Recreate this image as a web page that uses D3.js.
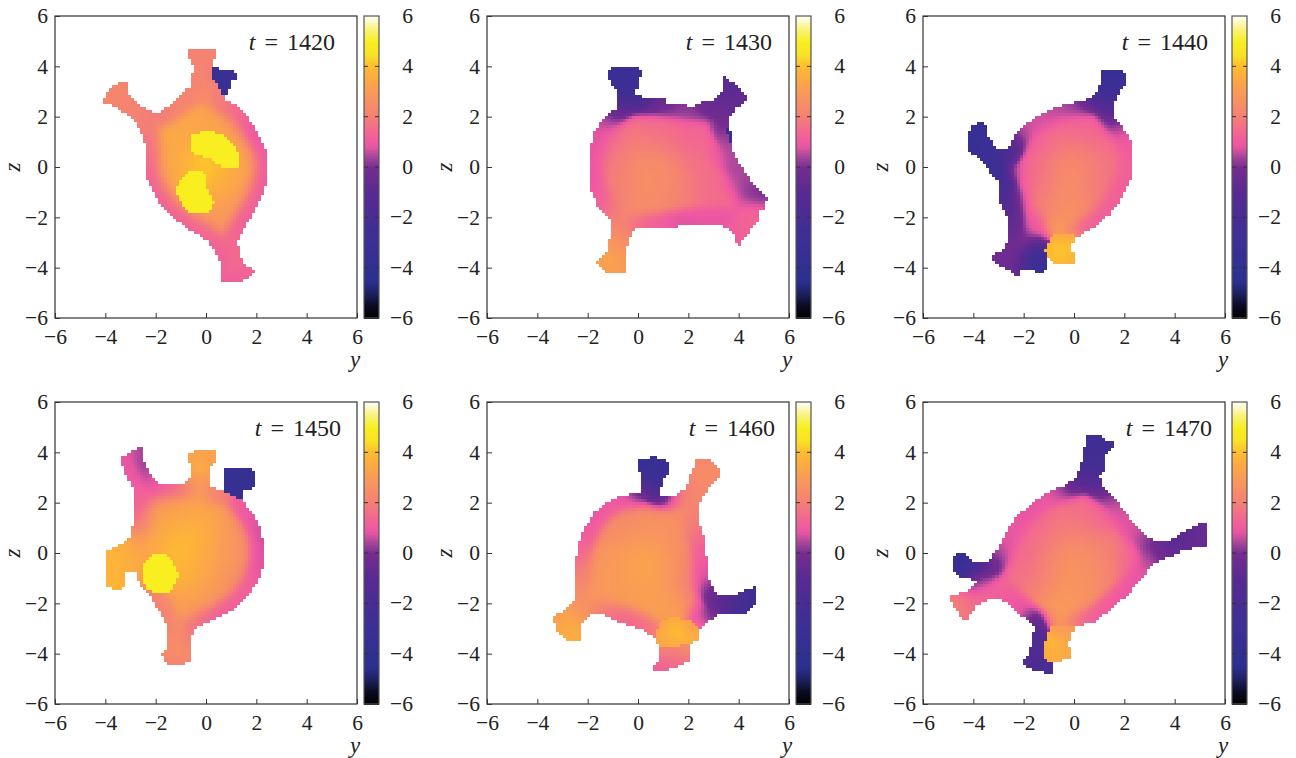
<!DOCTYPE html>
<html><head><meta charset="utf-8">
<script src="https://cdnjs.cloudflare.com/ajax/libs/d3/7.8.5/d3.min.js"></script>
<style>html,body{margin:0;background:#fff}svg{display:block}text{font-family:"Liberation Serif",serif;fill:#222}</style>
</head><body><svg id="c" width="1296" height="758"></svg>
<script>
const times=[1420,1430,1440,1450,1460,1470];
const axisTicks=[-6,-4,-2,0,2,4,6];
const cmapValues=[-6,-5.5,-5,-4.5,-4,-3,-2,-1,0,0.4,0.8,1,1.5,2,3,3.8,4.1,4.5,5,5.5,6];
const cmapColors=["#000000","#0a0a20","#1d2060","#2b3090","#303090","#3b2f95","#472d92","#582a92","#752c90","#a0449a","#e055a0","#ef58a2","#f26a8e","#f47f76","#f99a58","#fdb23a","#fdc22d","#f9e324","#f8ee20","#f9f27a","#fffff5"];

// outline vertices: [y, z, value read at the rim]; core: broad interior readings; arm: local readings
const outline1420=[[-.62,4.73,2.1],[.24,4.73,2.1],[.37,4.6,2.1],[.37,4.33,2.1],[.21,4.23,2.1],[.21,4,2],[.57,3.89,2],[.99,3.89,2],[1.23,3.6,2],[.99,3.4,2],[.83,2.9,2],[.7,2.77,2],[.83,2.64,1.6],[1.23,2.48,1.5],[1.63,2.01,1.2],[2.03,1.42,.7],[2.23,.95,.8],[2.45,.49,1],[2.45,-.44,1],[2.23,-1.03,1.1],[1.89,-1.7,1.1],[1.43,-2.56,1.2],[1.23,-2.95,1.5],[1.3,-3.35,1.4],[1.43,-3.75,1.5],[1.96,-4.17,1.4],[1.63,-4.41,1.2],[1.23,-4.61,1.2],[.6,-4.61,1.1],[.57,-3.75,1.3],[.37,-3.35,1.2],[.04,-2.89,1.4],[-.62,-2.49,1.2],[-1.28,-2.03,1.1],[-1.88,-1.36,1.1],[-2.21,-.77,1.1],[-2.44,-.24,1.1],[-2.44,.89,1.7],[-2.61,1.48,1.9],[-3.01,2.01,2.2],[-3.47,2.34,2.2],[-4.13,2.61,2.2],[-3.87,3.07,2.3],[-3.4,3.38,2.3],[-3.14,3.4,2.2],[-3.07,2.94,2.2],[-2.74,2.54,2.1],[-2.15,2.21,1.9],[-1.81,2.21,1.9],[-1.28,2.61,2.1],[-.62,3.21,2.2],[-.49,4.07,2.2],[-.73,4.4,2.1],[-.73,4.6,2.1]];
const core1420=[[.2,.3,4.3],[-.4,-.5,4.2],[1.3,.3,3.9],[.8,-.7,3.7],[-1.2,-.2,3.7],[-1.3,.9,3.5],[-.6,1.6,3.4],[.5,1.6,3.2],[1.4,1,2.8],[1.8,0,2.7],[1.4,-1.2,2.9],[.5,-1.9,2.9],[-.6,-1.9,2.8],[-1.4,-1.3,2.9],[-2,-.3,2.6]];
const arm1420=[[.8,-3.2,1.6],[-.1,3,2.4],[-.1,4.4,2.4],[-3.4,2.9,2.4],[.9,-4.2,2],[1.5,2,1.8]];
const patches1420=[[5,[[-.6,1.25],[.04,1.48],[.66,1.26],[1.12,.92],[1.32,.49],[1.26,-.03],[.68,-.03],[.17,.33],[-.6,.58]]],[5,[[-.98,-.42],[-.62,-.12],[-.07,-.14],[.07,-.83],[.33,-1.36],[.13,-1.79],[-.56,-1.86],[-.98,-1.45],[-1.21,-.9]]],[-3.2,[[.21,4],[.57,3.89],[.99,3.89],[1.23,3.6],[.99,3.4],[.83,2.9],[.7,2.77],[.44,3.27],[.21,3.67]]]];

const outline1430=[[-1.23,3.8,-3.2],[-.9,4,-3.2],[-.11,4,-3.2],[.12,3.76,-3.2],[-.04,3.47,-3.2],[-.08,2.83,-2.6],[.36,2.81,-1.6],[.42,2.7,-1],[1.09,2.7,-.4],[1.11,2.57,-.1],[1.81,2.57,.1],[1.88,2.45,.3],[2.28,2.45,.2],[2.34,2.57,-.1],[2.87,2.61,-.5],[3.38,3.07,-.9],[3.38,3.67,-1.1],[4.4,2.74,-.6],[3.87,2.34,-.6],[3.6,1.95,-.2],[3.54,1.62,0],[3.77,1.35,.3],[3.77,.56,.5],[4.46,-.5,.4],[4.6,-.7,.2],[5.13,-1.23,-.3],[4.99,-1.7,1.3],[4.86,-1.7,1.4],[4.79,-2.09,1.4],[3.93,-3.18,1],[3.87,-2.75,1.2],[3.51,-2.36,.9],[2.74,-2.23,.9],[1.62,-2.29,.7],[1.55,-2.42,.9],[-.11,-2.46,1.5],[-.41,-2.89,2.6],[-.46,-4.21,3],[-1.21,-4.25,3.2],[-1.7,-3.81,3],[-1.23,-3.28,3.3],[-1.1,-2.62,2.4],[-1.13,-2.09,1.9],[-1.63,-1.5,1.2],[-1.83,-1.03,1],[-1.96,-.57,.9],[-1.96,.62,.9],[-1.76,1.35,.8],[-1.36,2.01,.5],[-.9,2.34,-.6],[-.9,3.14,-3.2],[-1.23,3.54,-3.2]];
const core1430=[[.4,-.2,2.8],[1.2,-.3,2.4],[-.5,0,2.3],[1.6,-1.2,2.2],[0,-1.5,2.5],[0,1,2.1],[1,1.1,1.8],[-1.1,0,1.7],[-1.1,1.1,1.3],[2.3,.2,1.6],[2.7,-1,1.5],[-1,-1.2,1.9],[2,1.5,1.3],[.5,1.9,1.3]];
const arm1430=[[-.5,3.5,-3.2],[-.9,3.7,-3.3],[3.2,2.5,-.4],[3.8,2.8,-.6],[3.3,.5,1],[3.9,-.6,.8],[4.4,-1.3,.9],[4.7,-1.2,.3],[4,-2.5,1.8],[-.8,-3,3],[-.8,-3.8,3.8],[-1.4,-3.8,3.6],[-.8,-2.2,2.4],[-.5,2.5,-1.5]];
const patches1430=[[-3,[[3.54,1.62],[3.77,1.35],[3.77,.85],[3.6,1.1],[3.53,1.4]]]];

const outline1440=[[1.1,3.89,-3.3],[1.83,3.89,-3.3],[2.09,3.67,-3.3],[2.09,3.4,-3.3],[1.63,2.78,-2.4],[1.56,2.01,-.6],[1.89,1.62,.5],[2.16,1.22,.9],[2.33,.82,1.1],[2.33,-.24,1.2],[2.09,-.7,1.1],[1.83,-1.3,1.1],[1.36,-1.89,1.1],[.77,-2.36,1.1],[.24,-2.69,1.2],[-.05,-2.89,3],[-.09,-3.28,3.8],[.04,-3.62,3.6],[-.09,-3.88,3.6],[-.72,-3.88,-2],[-1.06,-3.62,-3],[-1.09,-3.95,-3.3],[-1.22,-4.25,-3.3],[-1.59,-4.25,-3.3],[-1.62,-4.12,-3.2],[-2.08,-4.01,-1.2],[-2.17,-4.12,-.6],[-2.17,-4.38,-.4],[-2.34,-4.34,-.3],[-2.61,-4.08,-.2],[-3.01,-3.95,-.2],[-3.18,-3.75,-.2],[-3.18,-3.48,-.2],[-2.81,-3.28,-.2],[-2.68,-2.95,-.3],[-2.68,-1.96,-.9],[-2.94,-1.43,-1.6],[-2.94,-.83,-2],[-3.05,-.5,-2.5],[-3.27,-.24,-3],[-3.6,.23,-3.2],[-4.07,.56,-3.3],[-4.26,.82,-3.3],[-4.16,1.42,-3.3],[-4.03,1.68,-3.3],[-3.67,1.81,-3.3],[-3.54,1.68,-3.3],[-3.47,1.35,-3.3],[-3.14,.75,-3],[-2.61,.75,-1.6],[-2.34,1.35,.3],[-1.95,1.68,.7],[-1.48,2.01,.7],[-.69,2.41,.5],[.37,2.68,0],[.7,2.74,-1.4],[.97,3.14,-3],[1.1,3.4,-3.3]];
const core1440=[[-.4,-.5,2.7],[.2,0,2.4],[-1,0,2],[1,0,2],[-.3,1,2],[.8,1.2,1.6],[1.5,.5,1.5],[-1.5,.8,1.2],[-1.6,-.4,1.3],[1.5,-.8,1.6],[1,-1.3,1.9],[.2,-1.7,2.6],[-.3,-2.1,3],[-1,-1.5,2],[-.5,1.8,1.2],[.6,1.9,1.1]];
const arm1440=[[-2.4,-.2,.2],[-2.8,.5,-2],[-3.5,1,-3.2],[-4,1.2,-3.3],[-3.3,.2,-2.8],[-2.3,-1.2,0],[-2.3,-2,-.1],[-1.7,-2,.9],[-1.4,-2.4,.7],[-.7,-2.5,3.3],[-2,-2.8,.2],[-2.6,-3.3,-.1],[-1.4,-3.8,-3.2],[-1.6,-3.3,-1.5],[-1.2,-3,-.6],[1.2,2.5,-2.2],[1.5,3.5,-3.2]];
const foot1440=[[-.5,-2.4,3.1],[-.55,-3.2,4.4],[-.5,-3.5,4.3],[-.95,-3.4,3.8],[-.05,-3.5,3.7],[-.6,-2.8,3.5],[-.3,-3.85,3.7],[-.7,-3.85,3.8]];
const patches1440=[[foot1440,[[-.85,-2.6],[-.05,-2.6],[-.05,-2.89],[-.09,-3.28],[.04,-3.62],[-.09,-3.88],[-.72,-3.88],[-1.06,-3.62],[-1.15,-3.3],[-.97,-2.9]]]];

const outline1450=[[-3.39,3.77,.9],[-3.03,3.97,.9],[-2.79,4.15,.7],[-2.53,4.15,.2],[-2.46,3.58,.3],[-2.2,3.05,.6],[-1.87,2.82,1],[-.81,2.82,1.6],[-.61,2.98,3.3],[-.61,3.58,3.6],[-.74,3.67,3.4],[-.74,3.91,3.2],[-.34,4.11,3.2],[.38,4.01,3.2],[.38,3.64,3.4],[.12,3.38,3.5],[.12,2.69,2.8],[.72,2.45,1.7],[.72,3.31,1.7],[.98,3.4,1.7],[1.84,3.31,1.7],[1.97,2.98,1.7],[1.91,2.61,1.5],[1.44,2.45,1.3],[1.38,2.12,1],[1.84,1.59,.9],[2.17,.93,.5],[2.3,.07,.6],[2.21,-.73,.7],[1.97,-1.19,1.1],[1.58,-1.79,1.1],[.91,-2.32,1.1],[.12,-2.72,1.2],[-.48,-2.98,1.6],[-.57,-3.31,1.9],[-.57,-4.11,2.5],[-.61,-4.3,2.3],[-.94,-4.4,2.2],[-1.07,-4.5,1.9],[-1.6,-4.37,2.2],[-1.8,-4.04,2.4],[-1.58,-3.84,2.5],[-1.58,-2.85,2.1],[-1.93,-2.19,1.9],[-2.26,-1.66,2],[-2.64,-1.32,2.6],[-2.79,-.79,3.4],[-2.99,-.64,3.7],[-3.22,-.73,3.9],[-3.26,-1.32,3.9],[-3.59,-1.46,3.9],[-4.01,-1.19,3.8],[-4.01,.04,3.8],[-3.39,.33,3.8],[-3.03,.66,3.3],[-2.93,1.13,1.6],[-2.93,2.58,1.1],[-3.13,2.98,1]];
const core1450=[[-1,0,4],[-1.5,.5,4],[-.5,1,3.9],[0,.5,3.7],[-.8,-1,3.9],[0,-.8,3.4],[.8,0,3.1],[1,.8,2.8],[.2,1.8,3.2],[-1,2,3],[-2,1.2,3],[-2.4,.3,3.2],[1.6,.3,2.4],[1.3,-1,2.4],[.3,-1.6,2.8],[-.3,-2.2,3],[-2,-1.8,3.3],[-1,-2.4,3]];
const arm1450=[[-.2,3.5,4.1],[-1.6,2.6,1.8],[-2.3,2.2,1.3],[-2.9,3.2,1.1],[-3.6,-.3,4],[-1.1,-4,3.4],[-1,-3.3,2.6],[-2.6,1.2,2]];
const patches1450=[[5,[[-2.49,-.43],[-2.13,-.04],[-1.54,-.01],[-1.2,-.6],[-1.11,-.86],[-1.38,-1.49],[-2,-1.62],[-2.43,-1.35],[-2.56,-.86]]],[-3.5,[[.72,3.31],[.98,3.4],[1.84,3.31],[1.97,2.98],[1.91,2.61],[1.44,2.45],[1.38,2.12],[.72,2.45]]]];

const outline1460=[[0,3.75,-3.4],[.46,3.75,-3.4],[.53,3.88,-3.4],[.73,3.88,-3.4],[.79,3.71,-3.4],[1.23,3.64,-3.4],[1.23,3.18,-3.4],[.93,2.85,-3.3],[.86,2.32,-1.5],[1.59,2.34,1.9],[1.92,2.61,2.2],[2.05,3.05,2.2],[2.19,3.22,2.4],[2.29,3.75,2.2],[2.78,3.75,2.2],[2.98,3.51,2.3],[3.28,3.25,2.4],[3.28,3.05,2.4],[2.78,2.65,2.3],[2.65,2.32,2.3],[2.45,2.05,2.2],[2.45,1.06,1.9],[2.65,.6,1.3],[2.72,-.33,.9],[2.82,-1.06,.6],[2.98,-1.46,-.2],[3.18,-1.66,-.9],[3.91,-1.66,-1.7],[4.24,-1.46,-2.3],[4.7,-1.32,-2.5],[4.74,-1.92,-2.5],[4.37,-2.32,-2.5],[4.34,-2.56,-2.5],[4.24,-2.38,-2.5],[3.11,-2.45,-.3],[2.72,-2.78,.7],[2.45,-3.05,1.2],[2.42,-3.38,3.2],[1.99,-3.64,2.6],[2.05,-4.3,1.6],[1.66,-4.44,1.6],[.86,-4.74,1.3],[.6,-4.7,1.1],[.6,-4.44,1.2],[.83,-4.3,1.5],[.86,-3.71,2.3],[.66,-3.38,2],[.2,-3.05,1.5],[-.33,-2.85,1.5],[-.99,-2.65,1.5],[-1.39,-2.45,1.7],[-1.92,-2.45,2.6],[-2.25,-2.85,3.3],[-2.34,-3.51,3.7],[-2.72,-3.51,3.6],[-3.25,-3.05,3.4],[-3.31,-2.65,3.2],[-3.4,-2.58,3],[-2.85,-2.25,3.2],[-2.52,-1.79,2.6],[-2.45,.2,1.3],[-2.19,.93,1],[-1.72,1.66,.9],[-1.19,2.05,.9],[-.73,2.29,.9],[.09,2.42,-.2],[.09,3.25,-3.3],[0,3.31,-3.4]];
const core1460=[[.2,-.5,3.4],[1,-.5,3.1],[-.5,-.5,3.1],[-1.5,-.5,2.8],[-1,1,2.5],[0,1.2,2.8],[1,1.2,2.8],[1.9,.1,2.4],[-.2,2,2],[1.5,1.9,2.4],[.5,-1.8,3.1],[-1,-1.6,3],[-2,-1.6,2.8],[1.2,-2.1,3.2],[2.1,-1.2,1.9]];
const arm1460=[[-2.8,-2.7,4.1],[-2.6,-3.2,3.8],[1.3,-3.9,2.1],[2.7,3.2,3.5],[2.3,3.6,2.8],[.5,3.3,-3.4],[.5,2.7,-3.2],[.5,2.45,-1.5],[3.5,-2,-1.2],[4.2,-2,-2.2],[2.5,-2.3,.9]];
const foot1460=[[1.6,-3.1,4.3],[1.2,-3.2,4.2],[2,-3.1,3.9],[1.5,-3.55,3.4],[.95,-3.5,3.2],[2.3,-3.3,3.6],[1.5,-2.6,3.4],[2.2,-2.8,2.6],[.9,-2.85,3]];
const patches1460=[[foot1460,[[.86,-3.71],[1.99,-3.64],[2.42,-3.38],[2.45,-3.05],[2.2,-2.7],[1.4,-2.5],[.9,-2.7],[.66,-3.38]]]];

const outline1470=[[.48,4.64,-2.6],[1.1,4.64,-2.6],[1.14,4.5,-2.5],[1.6,4.37,-2.4],[1.5,4.17,-2.4],[1.23,3.97,-2.4],[1.14,3.25,-2.2],[1.01,3.05,-1.8],[1.14,2.69,-.8],[1.5,2.32,.3],[1.96,1.72,.7],[2.36,1.19,.8],[2.69,.79,.6],[3.09,.53,.1],[3.81,.53,-1.1],[4.15,.73,-1],[4.74,1.06,-.7],[5.01,1.23,-.5],[5.25,1.15,-.4],[5.25,.26,-.4],[4.41,.13,-.7],[3.68,-.17,-.5],[3.15,-.4,.5],[2.69,-.93,.9],[2.23,-1.52,.9],[1.56,-2.12,1],[.77,-2.72,1.1],[.04,-2.91,1.5],[-.09,-3.25,3.3],[-.23,-3.58,3.5],[-.09,-4.04,3.5],[-.23,-4.24,3.3],[-.82,-4.3,-2],[-.82,-4.77,-1.8],[-1.22,-4.77,-2.4],[-1.28,-4.64,-2],[-1.68,-4.64,-1.6],[-2.08,-4.37,-1.4],[-2.08,-4.24,-1.4],[-1.85,-4.11,-1.5],[-1.68,-3.58,-1.7],[-1.59,-2.91,-1.6],[-1.75,-2.74,0],[-2.15,-2.45,.9],[-2.61,-1.99,1],[-3.01,-1.81,1.2],[-3.47,-1.85,1.3],[-3.87,-2.05,1.5],[-4.2,-2.45,1.7],[-4.26,-2.69,1.7],[-4.42,-2.58,1.9],[-4.86,-1.92,2.1],[-4.86,-1.7,1.9],[-4.13,-1.46,1.4],[-3.7,-1.06,.9],[-4.46,-.99,-3],[-4.75,-.73,-3.3],[-4.75,-.13,-3.4],[-4.56,.03,-3.4],[-4.36,0,-3.4],[-4,-.33,-2.9],[-3.4,-.33,-.3],[-3.01,.2,.7],[-2.68,.93,.9],[-2.28,1.46,.9],[-1.62,2.05,.9],[-1.15,2.38,.9],[-.49,2.65,.4],[.11,2.98,-1.2],[.37,3.77,-2.6]];
const core1470=[[0,-.7,2.9],[.8,-.5,2.7],[-.8,-.3,2.5],[0,.5,2.4],[1.2,.3,2.1],[1.5,-.8,2.1],[.5,-1.7,2.6],[-.6,-1.6,2.8],[-.3,-2.4,3.2],[-.7,1.3,1.7],[.3,1.6,1.6],[1.2,1.4,1.3],[-1.5,.6,1.5],[-1.9,-.3,1.4],[-1.5,-1,1.9],[2.2,-.3,1.1]];
const arm1470=[[-3.5,-.7,-.3],[-4,-.6,-2.5],[-4.5,-.5,-3.5],[-3,-1.3,1.3],[-4.5,-1.9,2],[.7,2.8,-.6],[.9,3.4,-2],[.8,4.3,-2.4],[3.1,.1,.1],[3.7,.2,-.8],[4.5,.5,-.6],[-1.4,-2.8,-.9],[-1.4,-3.4,-1.6],[-1.5,-4.2,-1.5],[-1,-4.5,-2],[-.9,-2.7,2],[-.5,-2.65,3.1]];
const foot1470=[[-.5,-2.95,3.1],[-.8,-3.6,4],[-.7,-4,3.7],[-1.15,-4,3.5],[-.3,-3.5,3.4],[-.3,-2.95,2.9],[-.3,-4.1,3.4]];
const patches1470=[[foot1470,[[-.85,-2.85],[0,-2.91],[-.23,-3.58],[-.09,-4.04],[-.23,-4.24],[-.82,-4.3],[-1.22,-4.24],[-1.22,-3.68],[-1.02,-3.13]]]];

const outlines=[outline1420,outline1430,outline1440,outline1450,outline1460,outline1470];
const cores=[core1420,core1430,core1440,core1450,core1460,core1470];
const arms=[arm1420,arm1430,arm1440,arm1450,arm1460,arm1470];
const patches=[patches1420,patches1430,patches1440,patches1450,patches1460,patches1470];

const frameLeft=[55,487,923], frameTop=[16,402], W=302, H=302;
const labelEnd=[335,772,1208,341,775,1212];
const color=d3.scaleLinear().domain(cmapValues).range(cmapColors).clamp(true);
const svg=d3.select("#c");
const N=100, step=12/N, cellIdx=d3.range(N);
const fmt=d=>d<0?"\u2212"+(-d):d;

function rimPoints(o){const r=[];o.forEach((p,i)=>{const q=o[(i+1)%o.length],n=Math.max(1,Math.ceil(Math.hypot(q[0]-p[0],q[1]-p[1])/.12));
  const iy=d3.interpolateNumber(p[0],q[0]),iz=d3.interpolateNumber(p[1],q[1]),iv=d3.interpolateNumber(p[2],q[2]);
  for(let s=0;s<n;s++)r.push([iy(s/n),iz(s/n),iv(s/n)])});return r}
function blend(py,pz,groups){let a=0,b=0;for(const [pts,sig] of groups)for(const [y,z,v] of pts){const w=Math.exp(-((py-y)**2+(pz-z)**2)/(2*sig*sig));a+=w*v;b+=w}return a/(b+1e-14)}

times.forEach((t,k)=>{
  const col=k%3,row=Math.floor(k/3),L=frameLeft[col],T=frameTop[row];
  const xs=d3.scaleLinear().domain([-6,6]).range([0,W]);
  const ys=d3.scaleLinear().domain([-6,6]).range([H,0]);
  const g=svg.append("g").attr("transform",`translate(${L},${T})`);
  const groups=[[cores[k],.6],[arms[k],.3],[rimPoints(outlines[k]),.3]];
  const cells=[];
  for(const i of cellIdx)for(const j of cellIdx){
    const py=-6+(i+.5)*step,pz=-6+(j+.5)*step;
    if(!d3.polygonContains(outlines[k],[py,pz]))continue;
    let v=null;
    for(const [pv,poly] of patches[k]) if(d3.polygonContains(poly,[py,pz])) v=Array.isArray(pv)?blend(py,pz,[[pv,.3]]):pv;
    if(v===null) v=blend(py,pz,groups);
    cells.push({i,j,v});
  }
  g.append("g").attr("shape-rendering","crispEdges").selectAll("rect").data(cells).join("rect")
    .attr("x",d=>xs(-6+d.i*step)).attr("y",d=>ys(-6+(d.j+1)*step))
    .attr("width",xs(step)-xs(0)+.5).attr("height",ys(0)-ys(step)+.5)
    .attr("fill",d=>color(d.v));
  g.append("rect").attr("width",W).attr("height",H).attr("fill","none").attr("stroke","#333").attr("stroke-width",1.2);
  const ax=d3.axisBottom(xs).tickValues(axisTicks).tickSize(-5).tickPadding(11).tickFormat(fmt);
  const ay=d3.axisLeft(ys).tickValues(axisTicks).tickSize(-5).tickPadding(7).tickFormat(fmt);
  const gx=g.append("g").attr("transform",`translate(0,${H})`).call(ax);
  const gy=g.append("g").call(ay);
  [gx,gy].forEach(a=>{a.select(".domain").remove();a.selectAll("line").attr("stroke","#333").attr("stroke-width",1);a.selectAll("text").attr("font-size",21.5).attr("font-family","Liberation Serif").attr("fill","#222")});
  g.append("text").attr("x",W-7).attr("y",H+49).attr("font-size",23).attr("font-style","italic").text("y");
  g.append("text").attr("transform",`translate(-35,${H/2}) rotate(-90)`).attr("text-anchor","middle").attr("font-size",23).attr("font-style","italic").text("z");
  const lab=svg.append("text").attr("x",labelEnd[k]).attr("y",T+34).attr("text-anchor","end").attr("font-size",24);
  lab.append("tspan").attr("font-style","italic").text("t");
  lab.append("tspan").style("word-spacing","3px").text(" = "+t);
  // colour bar
  const cb=svg.append("g").attr("transform",`translate(${L+W+7},${T})`);
  const cw=15, cs=d3.scaleLinear().domain([-6,6]).range([H,0]);
  const vals=d3.range(151).map(i=>-6+i*12/151);
  cb.append("g").attr("shape-rendering","crispEdges").selectAll("rect").data(vals).join("rect").attr("x",0).attr("width",cw)
    .attr("y",d=>cs(d+12/151)).attr("height",H/151+.5).attr("fill",d=>color(d+6/151));
  cb.append("rect").attr("width",cw).attr("height",H).attr("fill","none").attr("stroke","#555").attr("stroke-width",1.2);
  cb.selectAll(".tl").data(axisTicks.slice(1,-1)).join("line").attr("class","tl").attr("x1",0).attr("x2",4).attr("y1",cs).attr("y2",cs).attr("stroke","#333");
  cb.selectAll(".tr").data(axisTicks.slice(1,-1)).join("line").attr("class","tr").attr("x1",cw-4).attr("x2",cw).attr("y1",cs).attr("y2",cs).attr("stroke","#333");
  cb.selectAll("text").data(axisTicks).join("text").attr("x",49).attr("y",d=>cs(d)+7).attr("text-anchor","end").attr("font-size",21.5).text(fmt);
});
</script></body></html>
